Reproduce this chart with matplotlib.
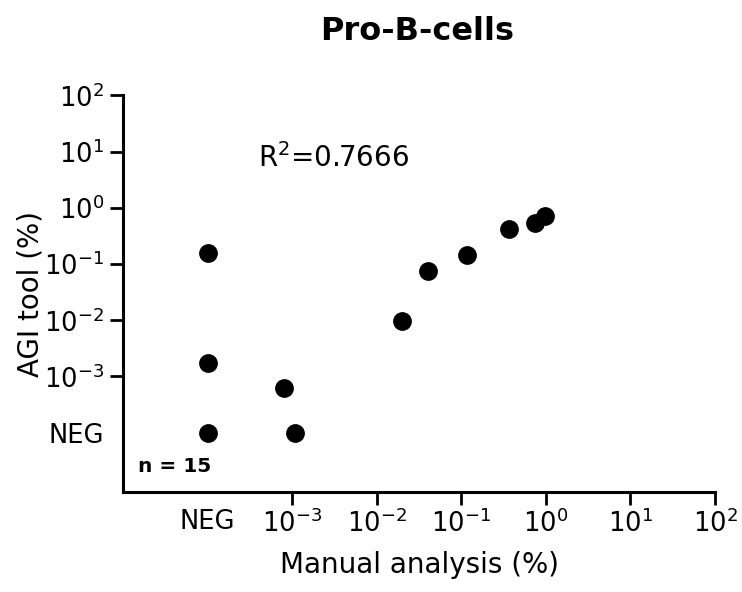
import numpy as np
import matplotlib
matplotlib.use("Agg")
import matplotlib.pyplot as plt
from matplotlib.ticker import FixedLocator, NullLocator

plt.rcParams["font.family"] = ["DejaVu Sans"]
plt.rcParams["mathtext.default"] = "regular"

# Percent of pro-B-cells per sample; "NEG" marks a negative result
manual_pct = ["NEG", "NEG", "NEG", 0.0008, 0.00109, 0.0198, 0.0405, 0.118, 0.368, 0.746, 0.98]
agi_pct = [0.156, 0.00172, "NEG", 0.00062, "NEG", 0.0097, 0.0753, 0.1435, 0.422, 0.546, 0.718]

decades = [-3, -2, -1, 0, 1, 2]
tick_labels = ["NEG"] + [r"$10^{%d}$" % d for d in decades]
r_squared = 0.7666
n_samples = 15

# Negative samples are drawn one decade below the lowest labelled decade
NEG_POS = 1e-4


def to_axis(values):
    return np.array([NEG_POS if v == "NEG" else v for v in values], dtype=float)


x = to_axis(manual_pct)
y = to_axis(agi_pct)

fig = plt.figure(figsize=(7.42, 5.92), dpi=100)
ax = fig.add_axes([123 / 742, 1 - 491.7 / 592, (715 - 123) / 742, (491.7 - 95.5) / 592])

ax.plot(x, y, "o", color="black", markersize=12.5, clip_on=False)

ax.set_xscale("log")
ax.set_yscale("log")
ax.set_xlim(1e-5, 1e2)
ax.set_ylim(10 ** -5.05, 1e2)

tick_pos = [NEG_POS] + [10.0 ** d for d in decades]
for axis in (ax.xaxis, ax.yaxis):
    axis.set_major_locator(FixedLocator(tick_pos))
    axis.set_minor_locator(NullLocator())
ax.set_xticklabels(tick_labels)
ax.set_yticklabels(tick_labels)

ax.tick_params(direction="out", length=9.5, width=2, labelsize=18.5, colors="black")
ax.tick_params(axis="x", pad=3)
ax.tick_params(axis="y", pad=4)
# the NEG positions carry a label but no tick mark
ax.xaxis.get_major_ticks()[0].tick1line.set_visible(False)
ax.yaxis.get_major_ticks()[0].tick1line.set_visible(False)

for side in ("top", "right"):
    ax.spines[side].set_visible(False)
for side in ("left", "bottom"):
    ax.spines[side].set_linewidth(2.2)

ax.set_xlabel("Manual analysis (%)", fontsize=20, labelpad=10)
ax.set_ylabel("AGI tool (%)", fontsize=20, labelpad=0)

fig.text(417.5 / 742, 1 - 31 / 592, "Pro-B-cells", fontsize=23, fontweight="bold",
         ha="center", va="center")
fig.text(258 / 742, 1 - 167 / 592, r"$R^2$=%.4f" % r_squared, fontsize=20,
         ha="left", va="baseline")
ax.text(138 / 742, 1 - 466 / 592, "n = %d" % n_samples, fontsize=14.5, fontweight="bold",
        ha="left", va="center", transform=fig.transFigure)

fig.savefig("out.png", dpi=100, facecolor="white")
